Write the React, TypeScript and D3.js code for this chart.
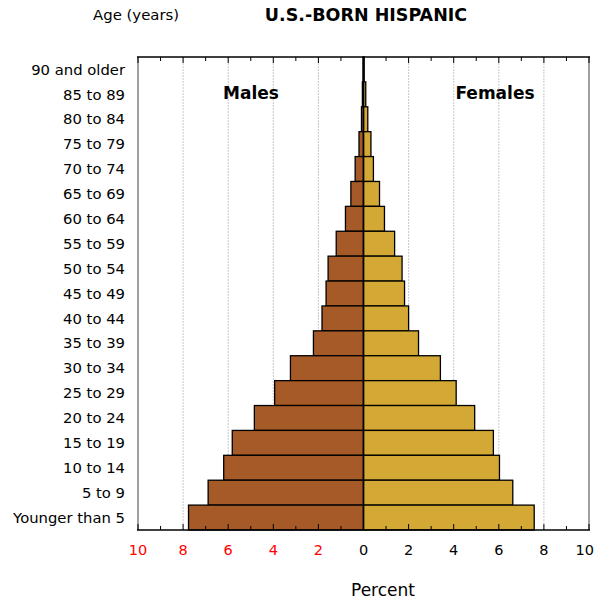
import React, { useEffect, useRef } from "react";
import { select, scaleLinear, scaleBand, range } from "d3";

// age groups, top to bottom
const ageGroups = [
  "90 and older",
  "85 to 89",
  "80 to 84",
  "75 to 79",
  "70 to 74",
  "65 to 69",
  "60 to 64",
  "55 to 59",
  "50 to 54",
  "45 to 49",
  "40 to 44",
  "35 to 39",
  "30 to 34",
  "25 to 29",
  "20 to 24",
  "15 to 19",
  "10 to 14",
  "5 to 9",
  "Younger than 5",
];

const malesPct = [
  0.02, 0.05, 0.09, 0.2, 0.37, 0.56, 0.8, 1.21, 1.57, 1.66, 1.84, 2.22, 3.24,
  3.94, 4.84, 5.82, 6.2, 6.89, 7.76,
];
const femalesPct = [
  0.03, 0.1, 0.19, 0.33, 0.44, 0.71, 0.93, 1.38, 1.71, 1.82, 2.0, 2.44, 3.41,
  4.11, 4.93, 5.76, 6.03, 6.62, 7.57,
];

const xTickValues = [-10, -8, -6, -4, -2, 0, 2, 4, 6, 8, 10];

const App = () => {
  const ref = useRef<SVGSVGElement>(null);

  useEffect(() => {
    if (!ref.current) return;
    const svg = select(ref.current);
    svg.selectAll("*").remove();

    const left = 138;
    const right = 589;
    const top = 57;
    const bottom = 530;
    const font = "Verdana, 'DejaVu Sans', sans-serif";

    const x = scaleLinear().domain([-10, 10]).range([left, right]);
    const y = scaleBand().domain(ageGroups).range([top, bottom]).padding(0);

    // gridlines
    svg
      .append("g")
      .selectAll("line")
      .data([-8, -6, -4, -2, 2, 4, 6, 8])
      .enter()
      .append("line")
      .attr("x1", (d) => x(d))
      .attr("x2", (d) => x(d))
      .attr("y1", top)
      .attr("y2", bottom)
      .attr("stroke", "#c8c8c8")
      .attr("stroke-width", 1)
      .attr("stroke-dasharray", "2,1");

    // male bars
    svg
      .append("g")
      .selectAll("rect")
      .data(malesPct)
      .enter()
      .append("rect")
      .attr("x", (d) => x(-d))
      .attr("y", (_d, i) => y(ageGroups[i]) || 0)
      .attr("width", (d) => x(0) - x(-d))
      .attr("height", y.bandwidth())
      .attr("fill", "#a65a27")
      .attr("stroke", "#000")
      .attr("stroke-width", 1.3);

    // female bars
    svg
      .append("g")
      .selectAll("rect")
      .data(femalesPct)
      .enter()
      .append("rect")
      .attr("x", x(0))
      .attr("y", (_d, i) => y(ageGroups[i]) || 0)
      .attr("width", (d) => x(d) - x(0))
      .attr("height", y.bandwidth())
      .attr("fill", "#d4a834")
      .attr("stroke", "#000")
      .attr("stroke-width", 1.3);

    // zero line
    svg
      .append("line")
      .attr("x1", x(0))
      .attr("x2", x(0))
      .attr("y1", top)
      .attr("y2", bottom)
      .attr("stroke", "#000")
      .attr("stroke-width", 1.5);

    // frame: gray sides, black top/bottom
    [left, right].forEach((xx) => {
      svg
        .append("line")
        .attr("x1", xx)
        .attr("x2", xx)
        .attr("y1", top)
        .attr("y2", bottom)
        .attr("stroke", "#a0a0a0")
        .attr("stroke-width", 2);
    });
    [top, bottom].forEach((yy) => {
      svg
        .append("line")
        .attr("x1", left - 1)
        .attr("x2", right + 1)
        .attr("y1", yy)
        .attr("y2", yy)
        .attr("stroke", "#000")
        .attr("stroke-width", 1.5);
    });

    // ticks on top and bottom, pointing inward
    const ticks = range(-10, 11, 1);
    const tg = svg.append("g");
    ticks.forEach((t) => {
      const len = t % 2 === 0 ? 6 : 4;
      tg.append("line")
        .attr("x1", x(t))
        .attr("x2", x(t))
        .attr("y1", top)
        .attr("y2", top + len)
        .attr("stroke", "#000")
        .attr("stroke-width", 1);
      tg.append("line")
        .attr("x1", x(t))
        .attr("x2", x(t))
        .attr("y1", bottom)
        .attr("y2", bottom - len)
        .attr("stroke", "#000")
        .attr("stroke-width", 1);
    });

    // x tick labels
    svg
      .append("g")
      .selectAll("text")
      .data(xTickValues)
      .enter()
      .append("text")
      .attr("x", (d) => (d === 10 ? 594 : x(d)))
      .attr("y", 555)
      .attr("text-anchor", (d) => (d === 10 ? "end" : "middle"))
      .attr("font-family", font)
      .attr("font-size", 14.5)
      .attr("fill", (d) => (d < 0 ? "#ff0000" : "#000"))
      .text((d) => String(Math.abs(d)));

    // age labels
    svg
      .append("g")
      .selectAll("text")
      .data(ageGroups)
      .enter()
      .append("text")
      .attr("x", 125)
      .attr("y", (d) => (y(d) || 0) + y.bandwidth() / 2)
      .attr("dy", "0.35em")
      .attr("text-anchor", "end")
      .attr("font-family", font)
      .attr("font-size", 14.8)
      .attr("fill", "#000")
      .text((d) => d);

    // titles
    svg
      .append("text")
      .attr("x", 93)
      .attr("y", 20)
      .attr("font-family", font)
      .attr("font-size", 14.9)
      .text("Age (years)");
    svg
      .append("text")
      .attr("x", 366)
      .attr("y", 21)
      .attr("text-anchor", "middle")
      .attr("font-family", font)
      .attr("font-size", 17.5)
      .attr("font-weight", "bold")
      .text("U.S.-BORN HISPANIC");
    svg
      .append("text")
      .attr("x", 251)
      .attr("y", 99)
      .attr("text-anchor", "middle")
      .attr("font-family", font)
      .attr("font-size", 17)
      .attr("font-weight", "bold")
      .text("Males");
    svg
      .append("text")
      .attr("x", 495)
      .attr("y", 99)
      .attr("text-anchor", "middle")
      .attr("font-family", font)
      .attr("font-size", 17)
      .attr("font-weight", "bold")
      .text("Females");
    svg
      .append("text")
      .attr("x", 383)
      .attr("y", 596)
      .attr("text-anchor", "middle")
      .attr("font-family", font)
      .attr("font-size", 17)
      .text("Percent");
  }, []);

  return (
    <svg
      ref={ref}
      width={595}
      height={602}
      style={{ position: "absolute", left: 0, top: 0 }}
    ></svg>
  );
};

export default App;
